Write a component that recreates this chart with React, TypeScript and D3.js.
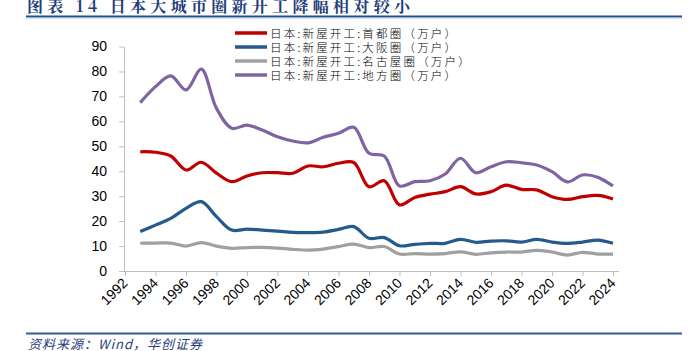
import React, { useEffect, useRef } from "react";
import * as d3 from "d3";

// 1993 - 2024, yearly
const years = d3.range(1993, 2025);
const capital = [47.8, 47.6, 46.1, 40.5, 43.6, 39.2, 35.8, 38.1, 39.4, 39.4, 39.2, 42.1, 41.8, 43.2, 43.5, 33.8, 36.2, 26.5, 29.5, 30.8, 31.8, 33.8, 30.9, 31.8, 34.4, 32.7, 32.5, 29.8, 28.7, 29.8, 30.3, 28.9];
const osaka = [15.8, 18.4, 21.1, 25.1, 27.8, 21.8, 16.4, 16.8, 16.4, 16.0, 15.5, 15.4, 15.6, 16.7, 17.8, 13.1, 13.4, 10.1, 10.7, 11.1, 11.1, 12.7, 11.5, 12.0, 12.1, 11.6, 12.7, 11.6, 11.1, 11.6, 12.4, 11.1];
const nagoya = [11.2, 11.2, 11.2, 10.0, 11.4, 10.0, 9.1, 9.4, 9.5, 9.2, 8.7, 8.4, 8.8, 9.8, 10.8, 9.4, 9.8, 6.8, 7.0, 6.8, 7.0, 7.7, 6.7, 7.3, 7.6, 7.6, 8.3, 7.6, 6.4, 7.5, 6.8, 6.8];
const regional = [67.5, 73.9, 78.2, 72.6, 80.9, 65.2, 57.2, 58.5, 56.5, 53.8, 52.1, 51.4, 53.6, 55.2, 57.6, 47.2, 46.1, 34.1, 35.8, 36.2, 38.9, 45.2, 39.4, 41.8, 43.8, 43.4, 42.5, 39.8, 35.7, 38.5, 37.6, 34.1];

const seriesNames = [
  "日本:新屋开工:首都圈（万户）",
  "日本:新屋开工:大阪圈（万户）",
  "日本:新屋开工:名古屋圈（万户）",
  "日本:新屋开工:地方圈（万户）",
];
const seriesValues = [capital, osaka, nagoya, regional];
const colors = ["#C00000", "#245A8C", "#A0A0A0", "#8064A2"];

const xTicks = d3.range(1992, 2025, 2);
const yTicks = d3.range(0, 91, 10);

const App: React.FC = () => {
  const svgRef = useRef<SVGSVGElement | null>(null);

  useEffect(() => {
    const width = 688;
    const height = 351;
    const svg = d3.select(svgRef.current);
    svg.selectAll("*").remove();
    svg.attr("width", width).attr("height", height);

    const x = d3.scaleLinear().domain([1992, 2024]).range([125, 613]);
    const y = d3.scaleLinear().domain([0, 90]).range([271, 46.5]);

    // title
    svg
      .append("text")
      .attr("x", 27)
      .attr("y", 12)
      .attr("fill", "#1F3E7A")
      .style("font", "bold 16px 'Noto Serif CJK SC', 'Noto Sans CJK SC', serif")
      .style("letter-spacing", "4.3px")
      .text("图表 14  日本大城市圈新开工降幅相对较小");
    svg.append("line").attr("x1", 26).attr("x2", 682).attr("y1", 16.5).attr("y2", 16.5)
      .attr("stroke", "#1F4E8C").attr("stroke-width", 2);
    svg.append("line").attr("x1", 26).attr("x2", 682).attr("y1", 18).attr("y2", 18)
      .attr("stroke", "#A9C2E0").attr("stroke-width", 1);

    // y axis
    const gy = svg
      .append("g")
      .attr("transform", "translate(124,0)")
      .call(d3.axisLeft(y).tickValues(yTicks).tickSize(5).tickSizeOuter(0).tickPadding(12));
    gy.select(".domain").attr("stroke", "#BFBFBF");
    gy.selectAll(".tick line").attr("stroke", "#BFBFBF");
    gy.selectAll("text")
      .attr("fill", "#000")
      .style("font", "14px 'Liberation Sans', Arial, sans-serif");

    // x axis
    const gx = svg
      .append("g")
      .attr("transform", "translate(0,271)")
      .call(d3.axisBottom(x).tickValues(xTicks).tickFormat(d3.format("d")).tickSize(5).tickSizeOuter(0));
    gx.select(".domain").attr("d", "M124,0.5H619").attr("stroke", "#BFBFBF");
    gx.selectAll(".tick line").attr("stroke", "#BFBFBF");
    gx.selectAll("text")
      .attr("fill", "#000")
      .attr("text-anchor", "end")
      .attr("dy", null)
      .attr("y", 0)
      .attr("transform", "translate(3,13) rotate(-45)")
      .style("font", "14px 'Liberation Sans', Arial, sans-serif");

    // lines
    const line = d3
      .line<number>()
      .x((_, i) => x(years[i]))
      .y((d) => y(d))
      .curve(d3.curveCatmullRom.alpha(0.5));

    seriesValues.forEach((vals, i) => {
      svg
        .append("path")
        .datum(vals)
        .attr("fill", "none")
        .attr("stroke", colors[i])
        .attr("stroke-width", 3.2)
        .attr("stroke-linejoin", "round")
        .attr("d", line);
    });

    // legend
    const legend = svg.append("g").attr("transform", "translate(235,33)");
    seriesNames.forEach((name, i) => {
      const row = legend.append("g").attr("transform", `translate(0,${i * 14})`);
      row.append("line").attr("x1", 0).attr("x2", 32).attr("y1", 0).attr("y2", 0)
        .attr("stroke", colors[i]).attr("stroke-width", 3.5);
      row
        .append("text")
        .attr("x", 35)
        .attr("y", 4.5)
        .attr("fill", "#000")
        .style("font", "11.5px 'Noto Sans CJK SC', sans-serif")
        .style("font-weight", "300")
        .style("letter-spacing", "2.2px")
        .text(name);
    });

    // footer
    svg.append("line").attr("x1", 26).attr("x2", 682).attr("y1", 333.5).attr("y2", 333.5)
      .attr("stroke", "#2F5C97").attr("stroke-width", 2);
    svg
      .append("text")
      .attr("x", 28)
      .attr("y", 349)
      .attr("fill", "#1F3E7A")
      .style("font", "italic 13px 'Noto Sans CJK SC', serif")
      .style("letter-spacing", "1px")
      .text("资料来源：Wind，华创证券");
  }, []);

  return (
    <div style={{ position: "absolute", left: 0, top: 0 }}>
      <svg ref={svgRef}></svg>
    </div>
  );
};

export default App;
